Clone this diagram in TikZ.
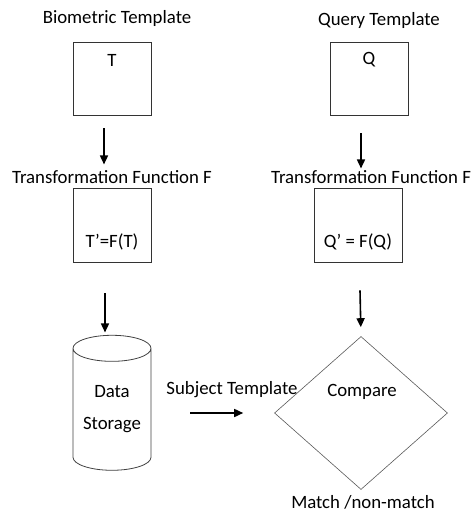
\documentclass[tikz,border=0pt]{standalone}
\usepackage{fontspec}
\setmainfont{Carlito}
\usetikzlibrary{arrows.meta,shapes.geometric}

\begin{document}
\begin{tikzpicture}
[
	x=1pt, y=-1pt,
	every node/.style={font=\fontsize{18.8}{22}\selectfont, text=black},
	box/.style={draw=black!80, line width=0.9pt, inner sep=0pt},
	arr/.style={-{Triangle[length=9pt,width=8pt]}, line width=1.6pt, black}
]

	\useasboundingbox (0,0) rectangle (473,514);

	% left column
	\node (lblT) at (117,18) {Biometric Template};
	\node[box, minimum width=78pt, minimum height=73pt] (T) at (112,78.5) {};
	\node (txtT) at (112,60) {T};
	\node (lblF1) at (112,177) {Transformation Function F};
	\node[box, minimum width=78pt, minimum height=74pt] (Tp) at (112,225) {};
	\node (txtTp) at (112,242) {T’=F(T)};
	\node[cylinder, shape border rotate=90, draw=black!75, line width=0.8pt,
		minimum width=78pt, minimum height=135pt, aspect=0.45, inner sep=0pt,
		align=center] (store) at (112,409.5) {Data\\[10pt]Storage};

	% right column
	\node (lblQ) at (379,20) {Query Template};
	\node[box, minimum width=78pt, minimum height=73pt] (Q) at (369,78.5) {};
	\node (txtQ) at (369,60) {Q};
	\node (lblF2) at (371,177) {Transformation Function F};
	\node[box, minimum width=88pt, minimum height=74pt] (Qp) at (358,225) {};
	\node (txtQp) at (358,242) {Q’ =\ F(Q)};
	\node[diamond, draw=black!65, line width=0.6pt, minimum width=173pt,
		minimum height=153pt, inner sep=0pt] (cmp) at (361,413) {};
	\node (txtcmp) at (362,392) {Compare};
	\node[inner sep=1pt] (lblM) at (363,502) {Match /non-match};
	\node (lblS) at (232,390) {Subject Template};

	% arrows
	\draw[arr] ([xshift=-8pt,yshift=-13pt]T.south) -- ([xshift=-8pt,yshift=-49pt]T.south);
	\draw[arr] ([xshift=-8pt,yshift=-18pt]Q.south) -- ([xshift=-8pt,yshift=-53pt]Q.south);
	\draw[arr] ([xshift=-7pt,yshift=-31pt]Tp.south) -- ([xshift=-7pt,yshift=-70pt]Tp.south);
	\draw[arr, shorten >=9pt] ([xshift=2pt,yshift=-28pt]Qp.south) -- (cmp.north);
	\draw[arr, shorten <=39pt, shorten >=31pt] (store.east |- cmp.west) -- (cmp.west);

\end{tikzpicture}
\end{document}
